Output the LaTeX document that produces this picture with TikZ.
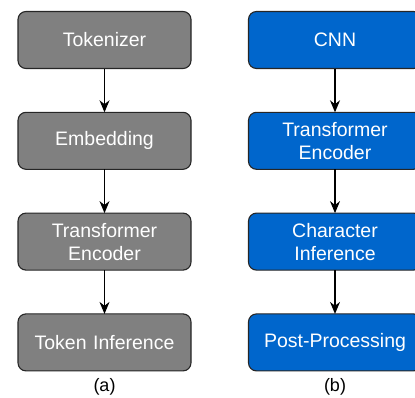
\documentclass[tikz,border=0pt]{standalone}
\usepackage{fontspec}
\setmainfont{Liberation Sans}
\usetikzlibrary{positioning,arrows.meta}

\definecolor{boxgray}{HTML}{808080}
\definecolor{boxblue}{HTML}{0066CC}

\tikzset{
  stage/.style={draw=black!85, line width=1.1pt, rounded corners=8pt,
    minimum width=173pt, minimum height=57pt, text width=165pt, align=center,
    text=white, font=\fontsize{19.5}{23}\selectfont, inner sep=0pt, outer sep=0pt},
  graystage/.style={stage, fill=boxgray},
  bluestage/.style={stage, fill=boxblue},
  flow/.style={-{Stealth[length=12pt,width=10pt]}, line width=1.1pt},
  caption/.style={font=\fontsize{18}{20}\selectfont, inner sep=0pt}
}

\begin{document}
\begin{tikzpicture}[x=1pt, y=1pt, node distance=43.8pt]
  \useasboundingbox (0,0) rectangle (415,-397);

% left column (a)
  \node[graystage] (tok) at (104.5,-40) {Tokenizer};
  \node[graystage, below=of tok] (emb) {Embedding};
  \node[graystage, below=of emb] (enca) {Transformer\\Encoder};
  \node[graystage, below=of enca] (tinf) {Token Inference};
  \node[caption, below=7pt of tinf] (capa) {(a)};

% right column (b)
  \node[bluestage] (cnn) at (335,-40) {CNN};
  \node[bluestage, below=of cnn] (encb) {Transformer\\Encoder};
  \node[bluestage, below=of encb] (cinf) {Character\\Inference};
  \node[bluestage, below=of cinf] (post) {Post-Processing};
  \node[caption, below=7pt of post] (capb) {(b)};

% arrows
  \draw[flow] (tok) -- (emb);
  \draw[flow] (emb) -- (enca);
  \draw[flow] (enca) -- (tinf);
  \draw[flow] (cnn) -- (encb);
  \draw[flow] (encb) -- (cinf);
  \draw[flow] (cinf) -- (post);
\end{tikzpicture}
\end{document}
